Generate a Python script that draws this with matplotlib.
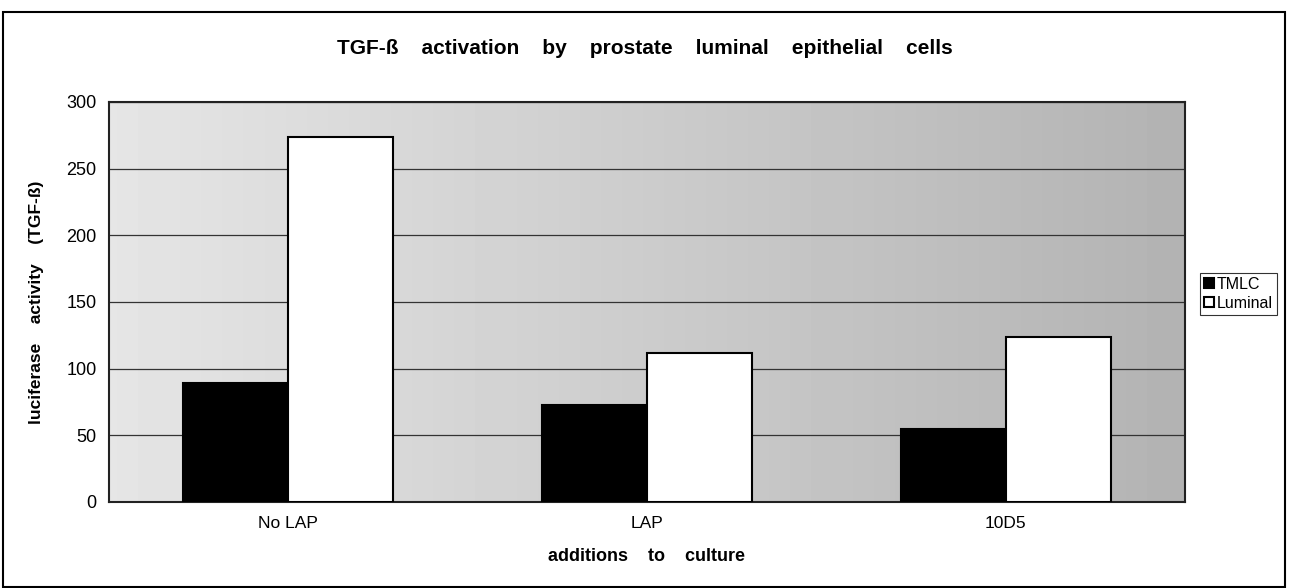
import numpy as np
import matplotlib.pyplot as plt
from matplotlib.patches import Rectangle

# ============================================================
# Data
# ============================================================

categories = ["No LAP", "LAP", "10D5"]
tmlc = [89, 73, 55]
luminal = [274, 112, 124]
yticks = [0, 50, 100, 150, 200, 250, 300]

plt.rcParams.update({
    "font.family": ["Liberation Sans", "DejaVu Sans"],
    "font.size": 10,
})

# ============================================================
# Figure
# ============================================================

fig = plt.figure(figsize=(12.89, 5.88), dpi=100)
ax = fig.add_axes([109 / 1289, 1 - 502 / 588, (1185 - 109) / 1289, (502 - 102) / 588])

# halftone-ish gray background, lighter on the left
grad = np.linspace(0.90, 0.70, 256).reshape(1, -1)
ax.imshow(grad, cmap="gray", vmin=0, vmax=1, aspect="auto",
          extent=[-0.5, 2.5, 0, 300], zorder=0)

x = np.arange(len(categories))
w = 0.293
ax.bar(x - w / 2, tmlc, width=w, color="black", edgecolor="black",
       linewidth=1.5, label="TMLC", zorder=3)
ax.bar(x + w / 2, luminal, width=w, color="white", edgecolor="black",
       linewidth=1.5, label="Luminal", zorder=3)

ax.set_xlim(-0.5, 2.5)
ax.set_ylim(0, 300)
ax.set_yticks(yticks)
ax.set_xticks(x)
ax.set_xticklabels(categories, fontsize=12.5)
ax.tick_params(axis="y", labelsize=13, length=0, pad=9)
ax.tick_params(axis="x", length=0, pad=10)
ax.yaxis.grid(True, color="#333333", linewidth=0.9)
for gl in ax.get_ygridlines():
    gl.set_zorder(1)
for s in ax.spines.values():
    s.set_linewidth(1.5)
    s.set_color("#222222")

ax.set_xlabel("additions    to    culture", fontsize=13, fontweight="bold", labelpad=12)
ax.set_ylabel("luciferase    activity    (TGF-ß)", fontsize=12.5, fontweight="bold", labelpad=16)

fig.text(0.5, 1 - 48 / 588,
         "TGF-ß    activation    by    prostate    luminal    epithelial    cells",
         ha="center", va="center", fontsize=15, fontweight="bold")

leg = ax.legend(loc="upper left", bbox_to_anchor=(1200 / 1289, 1 - 273 / 588),
                bbox_transform=fig.transFigure, frameon=True, fancybox=False,
                fontsize=11.5, handlelength=0.6, handleheight=0.6,
                handletextpad=0.2, borderpad=0.25, labelspacing=0.25,
                borderaxespad=0)
leg.get_frame().set_edgecolor("black")
leg.get_frame().set_linewidth(0.8)

# outer chart border
fig.patches.append(Rectangle((3 / 1289, 1 / 588), 1282 / 1289, 575 / 588,
                             transform=fig.transFigure, fill=False,
                             edgecolor="black", linewidth=1.5))

fig.savefig("out.png", dpi=100)
